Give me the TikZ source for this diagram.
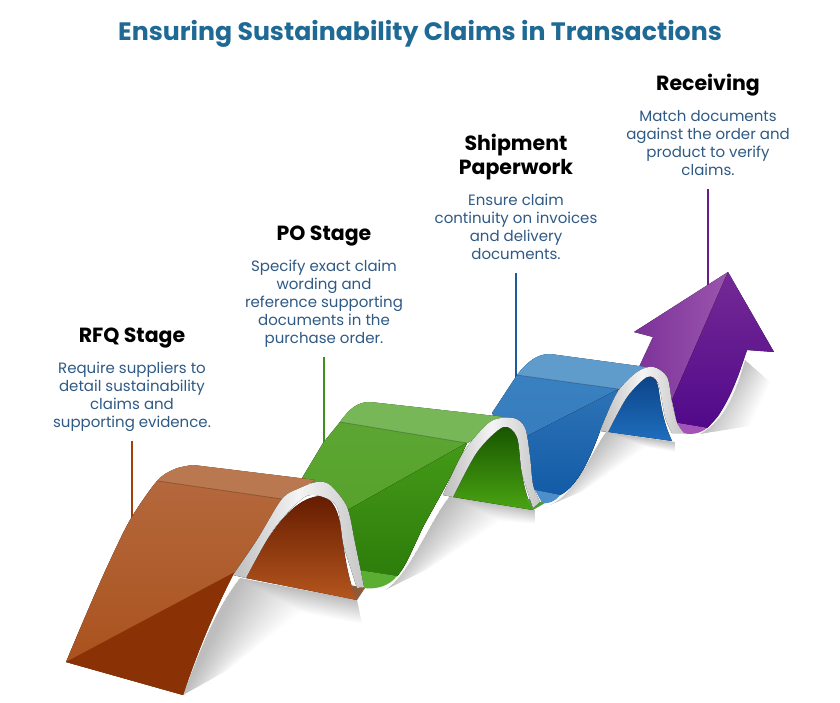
\documentclass[tikz,border=0pt]{standalone}
\usepackage{fontspec}
\setmainfont{Poppins}
\usetikzlibrary{calc}
\definecolor{titleblue}{HTML}{1F6A94}
\definecolor{bodyblue}{HTML}{2F5A85}
\definecolor{lbrown}{HTML}{A0410A}
\definecolor{lgreen}{HTML}{3F8F1C}
\definecolor{lblue}{HTML}{1B5A9C}
\definecolor{lpurple}{HTML}{6B1A8C}
\newcommand{\dc}[1]{\definecolor{#1}{HTML}{#1}}
\dc{BEBEBE}\dc{F4F4F4}\dc{C6C6C6}\dc{7C3298}\dc{9A55AE}\dc{742A95}\dc{52098A}\dc{A453B8}\dc{3B82C2}\dc{3379BC}\dc{2F75B8}\dc{0F58A4}\dc{5F9CCC}\dc{4E8FCB}\dc{0C4488}\dc{1F6EBE}\dc{5EA635}\dc{52A026}\dc{469B18}\dc{287808}\dc{78B758}\dc{5AAF32}\dc{175400}\dc{4AA412}\dc{4C9E30}\dc{B56A3F}\dc{A84E18}\dc{8A3206}\dc{BA7851}\dc{651C00}\dc{B5561E}\dc{8E5A3C}
\tikzset{
  titletext/.style={font=\fontsize{25.2}{28}\selectfont\bfseries,text=titleblue,inner sep=0pt},
  headtext/.style={font=\fontsize{20.5}{24}\selectfont\bfseries,text=black,align=center,inner sep=0pt},
  bodytext/.style={font=\fontsize{15}{18}\selectfont,text=bodyblue,align=center,inner sep=0pt},
  leader/.style={line width=1.8pt},
  curl/.style={left color=BEBEBE,right color=C6C6C6,middle color=F4F4F4},
  crease/.style={line width=.9pt,black,opacity=.2},
  softshade/.style={black,opacity=.011}
}
% shadow: foot a, edge points b,c, arch start d, arch end e; offset of a, d and e
\newcommand{\softshadow}[8]{%
  \foreach \k in {1,...,22}{
    \pgfmathsetmacro{\f}{\k/22}
    \fill[softshade] #1 .. controls #2 and #3 .. #4 -- #5
      -- ($#5+\f*#8$) -- ($#4+\f*#7$) -- ($#1+\f*#6$) -- cycle;
  }%
}
\begin{document}
\begin{tikzpicture}[x=1pt,y=-1pt]
\useasboundingbox (0,0) rectangle (840,703);
\fill[white] (0,0) rectangle (840,703);

% soft shadows on the ground
\softshadow{(183,695)}{(200,650)}{(215,610)}{(240,578)}{(357,600)}{(45,-25)}{(60,34)}{(5,24)}
\softshadow{(385,590)}{(410,575)}{(430,520)}{(450,496)}{(535,510)}{(45,-22)}{(50,25)}{(0,14)}
\softshadow{(550,505)}{(575,495)}{(590,455)}{(606,432)}{(675,442)}{(35,-15)}{(40,15)}{(0,10)}
\softshadow{(700,434)}{(725,420)}{(735,395)}{(745,360)}{(745,360)}{(50,-8)}{(25,22)}{(25,22)}

% leader lines
\coordinate (ra) at (132,441); \coordinate (rb) at (132,520);
\coordinate (pa) at (324,357); \coordinate (pb) at (324,446);
\coordinate (sa) at (516,273); \coordinate (sb) at (516,378);
\coordinate (va) at (708,189); \coordinate (vb) at (708,290);
\draw[leader,lbrown] (ra) -- (rb);
\draw[leader,lgreen] (pa) -- (pb);
\draw[leader,lblue] (sa) -- (sb);
\draw[leader,lpurple] (va) -- (vb);

% ---------- purple arrow ----------
\fill[left color=7C3298,right color=9A55AE] (728,272) -- (634,332) -- (653,337) -- (639,367) -- (660,385) -- (672,400) -- cycle;
\fill[top color=742A95,bottom color=52098A] (728,272) -- (672,400) -- (677,423)
  -- plot[smooth] coordinates {(707,428) (718,416) (729,397) (738,376) (747,350)}
  -- (774,352) -- cycle;
\fill[color=A453B8] (677,423) -- (707,428) .. controls (700,434) and (690,435) .. (683,433) -- cycle;

% ---------- blue strip ----------
\def\bluepath{(492,413) -- (517,375) .. controls (527,362) and (537,354) .. (550,354) -- (653,368) -- (618,390) -- (600,431)
  .. controls (590,458) and (578,486) .. (560,495) -- (535,490) -- cycle}
\fill[top color=3B82C2,bottom color=3379BC] \bluepath;
\begin{scope}
  \clip \bluepath;
  \fill[top color=2F75B8,bottom color=0F58A4] (520,440) -- (535,432) -- (617,390) -- (640,378) -- (640,510) -- (520,510) -- cycle;
  \fill[color=5F9CCC] (505,373) -- (517,375) -- (618,389) -- (660,395) -- (660,340) -- (505,340) -- cycle;
  \draw[crease] (517,375) -- (618,389);
\end{scope}
\fill[color=4E8FCB] (535,490) -- (560,495) .. controls (555,502) and (548,504) .. (542,503) -- cycle;
\fill[top color=0C4488,bottom color=1F6EBE] (608,432) .. controls (620,405) and (632,385) .. (647,377) .. controls (655,376) and (658,383) .. (659,392) .. controls (662,415) and (666,428) .. (672,441) -- cycle;
\fill[curl] plot[smooth] coordinates {(600,431) (617,393) (637,372) (653,367) (667,377) (672,403) (677,423) (684,433)}
  -- plot[smooth] coordinates {(672,433) (665,417) (658,383) (647,377) (627,397) (608,432)} -- cycle;

% ---------- green strip ----------
\def\greenpath{(302,478) -- (323,443) -- (340,422) .. controls (350,408) and (358,402) .. (370,402) -- (513,418) -- (467,443)
  .. controls (450,480) and (432,510) .. (423,527) .. controls (412,550) and (405,568) .. (397,576) -- (358,570) -- (340,500) -- cycle}
\fill[top color=5EA635,bottom color=52A026] \greenpath;
\begin{scope}
  \clip \greenpath;
  \fill[top color=469B18,bottom color=287808] (340,514) -- (353,507) -- (463,445) -- (480,435) -- (480,600) -- (340,600) -- cycle;
  \fill[color=78B758] (325,420) -- (340,422) -- (467,443) -- (520,451) -- (520,390) -- (325,390) -- cycle;
  \draw[crease] (340,422) -- (467,443);
\end{scope}
\fill[color=5AAF32] (358,570) -- (397,576) .. controls (390,585) and (378,590) .. (363,588) -- cycle;
\fill[top color=175400,bottom color=4AA412] (453,497) .. controls (470,462) and (485,433) .. (503,427) .. controls (513,425) and (517,432) .. (519,447) .. controls (521,475) and (525,495) .. (533,510) -- cycle;
\fill[color=4C9E30] (525,498) -- (545,503) -- (533,510) -- cycle;
\fill[curl] plot[smooth] coordinates {(443,495) (463,453) (490,422) (513,418) (525,428) (530,457) (533,485) (540,502)}
  -- plot[smooth] coordinates {(533,508) (522,473) (517,437) (503,427) (477,452) (453,497)} -- cycle;

% ---------- brown strip ----------
\def\brownpath{plot[smooth] coordinates {(66,662) (88,610) (107,567) (130,520) (157,481) (175,469) (193,465)} -- (315,480) -- (282,499) -- (257,540) -- (233,575)
  .. controls (215,610) and (198,650) .. (183,695) -- cycle}
\fill[top color=B56A3F,bottom color=A84E18] \brownpath;
\begin{scope}
  \clip \brownpath;
  \fill[color=8A3206] (50,670) -- (66,662) -- (233,573) -- (260,560) -- (260,720) -- (50,720) -- cycle;
  \fill[color=BA7851] (140,478) -- (158,481) -- (282,499) -- (330,506) -- (330,440) -- (140,440) -- cycle;
  \draw[crease] (158,481) -- (282,499);
\end{scope}
\fill[top color=651C00,bottom color=B5561E] (246,578) .. controls (265,540) and (290,498) .. (320,496) .. controls (335,498) and (340,515) .. (343,543) .. controls (346,565) and (350,585) .. (357,600) -- cycle;
\fill[color=8E5A3C] (350,585) -- (365,588) -- (357,600) -- cycle;
\fill[curl] plot[smooth] coordinates {(233,575) (257,540) (282,499) (300,488) (317,482) (330,485) (347,507) (355,543) (364,587)}
  -- plot[smooth] coordinates {(357,588) (348,560) (343,543) (337,507) (320,496) (303,498) (273,530) (246,578)} -- cycle;

% ---------- texts ----------
\node[titletext] (title) at (420,34) {Ensuring Sustainability Claims in Transactions};

\node[headtext] (h1) at (132,338) {RFQ Stage};
\node[bodytext,anchor=north] (b1) at (132,362) {Require suppliers to\\detail sustainability\\claims and\\supporting evidence.};

\node[headtext] (h2) at (324,236) {PO Stage};
\node[bodytext,anchor=north] (b2) at (324,260) {Specify exact claim\\wording and\\reference supporting\\documents in the\\purchase order.};

\node[headtext] (h3) at (516,157) {Shipment\\Paperwork};
\node[bodytext,anchor=north] (b3) at (516,194) {Ensure claim\\continuity on invoices\\and delivery\\documents.};

\node[headtext] (h4) at (708,85) {Receiving};
\node[bodytext,anchor=north] (b4) at (708,110) {Match documents\\against the order and\\product to verify\\claims.};
\end{tikzpicture}
\end{document}
